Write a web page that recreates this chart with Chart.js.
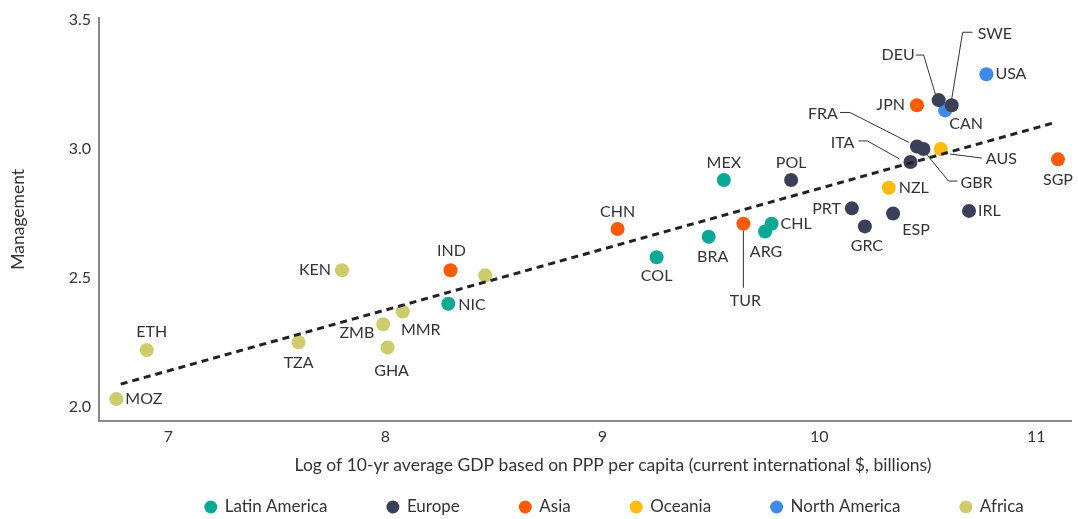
<!DOCTYPE html>
<html lang="en">
<head>
  <meta charset="UTF-8" />
  <title>Management vs GDP</title>
  <script src="https://cdn.jsdelivr.net/npm/chart.js"></script>
  <style>
    html, body { margin: 0; padding: 0; background: #fff; }
    #wrap { position: relative; width: 1078px; height: 519px; }
  </style>
</head>
<body>
  <div id="wrap"><canvas id="scatter"></canvas></div>

  <script>
    // ---- data ----
    const regions = ["Latin America", "Europe", "Asia", "Oceania", "North America", "Africa"];
    const regionColors = ["#0aa896", "#3b4059", "#ff5a06", "#fdbb0e", "#3d8ae8", "#cdcb6c"];

    const codes  = ["MOZ", "ETH", "TZA", "KEN", "ZMB", "GHA", "MMR", "", "IND", "NIC",
                    "CHN", "COL", "MEX", "BRA", "TUR", "ARG", "CHL", "POL", "PRT", "GRC",
                    "ESP", "NZL", "IRL", "SGP", "USA", "JPN", "DEU", "SWE", "CAN", "FRA",
                    "GBR", "ITA", "AUS"];
    const gdpLog = [6.76, 6.90, 7.60, 7.80, 7.99, 8.01, 8.08, 8.46, 8.30, 8.29,
                    9.07, 9.25, 9.56, 9.49, 9.65, 9.75, 9.78, 9.87, 10.15, 10.21,
                    10.34, 10.32, 10.69, 11.10, 10.77, 10.45, 10.55, 10.61, 10.58, 10.45,
                    10.48, 10.42, 10.56];
    const mgmt   = [2.03, 2.22, 2.25, 2.53, 2.32, 2.23, 2.37, 2.51, 2.53, 2.40,
                    2.69, 2.58, 2.88, 2.66, 2.71, 2.68, 2.71, 2.88, 2.77, 2.70,
                    2.75, 2.85, 2.76, 2.96, 3.29, 3.17, 3.19, 3.17, 3.15, 3.01,
                    3.00, 2.95, 3.00];
    const region = ["Africa", "Africa", "Africa", "Africa", "Africa", "Africa", "Africa", "Africa", "Asia", "Latin America",
                    "Asia", "Latin America", "Latin America", "Latin America", "Asia", "Latin America", "Latin America", "Europe", "Europe", "Europe",
                    "Europe", "Oceania", "Europe", "Asia", "North America", "Asia", "Europe", "Europe", "North America", "Europe",
                    "Europe", "Europe", "Oceania"];

    const trendX = [6.78, 11.09];
    const trendY = [2.088, 3.104];

    const xTicks = [7, 8, 9, 10, 11];
    const yTicks = [2.0, 2.5, 3.0, 3.5];

    const xTitle = "Log of 10-yr average GDP based on PPP per capita (current international $, billions)";

    // label placement: [dx, dy, align, leader polyline (relative to point)]
    const labelPos = {
      MOZ: [9, 0, "left"], ETH: [5, -18, "center"], TZA: [0, 20, "center"],
      KEN: [-11, 0, "right"], ZMB: [-9, 9, "right"], GHA: [4, 23, "center"],
      MMR: [18, 18, "center"], IND: [1, -19, "center"], NIC: [10, 1, "left"],
      CHN: [0, -17, "center"], COL: [0, 19, "center"], MEX: [0, -17, "center"],
      BRA: [4, 20, "center"], TUR: [2, 77, "center", [[0, 7], [0, 64]]],
      ARG: [1, 20, "center"], CHL: [9, 0, "left"], POL: [0, -17, "center"],
      PRT: [-11, 0, "right"], GRC: [2, 19, "center"], ESP: [23, 16, "center"],
      NZL: [10, 0, "left"], IRL: [9, 0, "left"], SGP: [0, 20, "center"],
      USA: [9, 0, "left"], JPN: [-12, 0, "right"], CAN: [21, 13, "center"],
      DEU: [-24, -45, "right", [[-23, -45], [-15, -45], [-3, -5]]],
      SWE: [26, -71, "left", [[21, -73], [11, -73], [0, -6]]],
      FRA: [-79, -33, "right", [[-77, -34], [-67, -34], [-8, -4]]],
      ITA: [-56, -19, "right", [[-52, -21], [-43, -21], [-11, -3]]],
      AUS: [45, 10, "left", [[9, 5], [41, 9]]],
      GBR: [37, 34, "left", [[3, 5], [25, 32], [34, 32]]]
    };

    const datasets = regions.map((r, ri) => {
      const pts = [];
      codes.forEach((c, i) => {
        if (region[i] === r) pts.push({ x: gdpLog[i], y: mgmt[i], code: c });
      });
      return {
        type: "scatter",
        label: r,
        data: pts,
        backgroundColor: regionColors[ri],
        borderWidth: 0,
        pointRadius: 7,
        pointHoverRadius: 7
      };
    });

    datasets.unshift({
      type: "line",
      label: "trend",
      data: trendX.map((x, i) => ({ x, y: trendY[i] })),
      borderColor: "#222",
      borderWidth: 3,
      borderDash: [7, 5],
      pointRadius: 0,
      fill: false
    });

    const labelFont = "16px Lato, sans-serif";

    const countryLabels = {
      id: "countryLabels",
      afterDatasetsDraw(chart) {
        const ctx = chart.ctx;
        ctx.save();
        ctx.font = labelFont;
        ctx.fillStyle = "#333";
        ctx.strokeStyle = "#333";
        ctx.lineWidth = 1;
        ctx.textBaseline = "middle";
        chart.data.datasets.forEach((ds, di) => {
          if (ds.type !== "scatter") return;
          const meta = chart.getDatasetMeta(di);
          ds.data.forEach((p, i) => {
            const pos = labelPos[p.code];
            if (!pos) return;
            const el = meta.data[i];
            if (pos[3]) {
              ctx.beginPath();
              pos[3].forEach(([dx, dy], k) => {
                if (k === 0) ctx.moveTo(el.x + dx, el.y + dy);
                else ctx.lineTo(el.x + dx, el.y + dy);
              });
              ctx.stroke();
            }
            ctx.textAlign = pos[2];
            ctx.fillText(p.code, el.x + pos[0], el.y + pos[1]);
          });
        });
        ctx.restore();
      }
    };

    // x title + legend drawn by hand: both sit a little right of the plot centre
    const bottomTexts = {
      id: "bottomTexts",
      afterDraw(chart) {
        const ctx = chart.ctx;
        ctx.save();
        ctx.font = "17.5px Lato, sans-serif";
        ctx.fillStyle = "#333";
        ctx.textBaseline = "middle";
        ctx.textAlign = "center";
        ctx.fillText(xTitle, 613, chart.scales.x.bottom - 14);

        ctx.font = "17px Lato, sans-serif";
        ctx.textAlign = "left";
        const gap = 59, r = 6.5, textOff = 20.5;
        const widths = regions.map(t => textOff + ctx.measureText(t).width);
        const total = widths.reduce((a, b) => a + b, 0) + gap * (regions.length - 1);
        let x = 614 - total / 2;
        const y = chart.height - 12;
        regions.forEach((t, i) => {
          ctx.fillStyle = regionColors[i];
          ctx.beginPath();
          ctx.arc(x + r, y, r, 0, Math.PI * 2);
          ctx.fill();
          ctx.fillStyle = "#333";
          ctx.fillText(t, x + textOff, y);
          x += widths[i] + gap;
        });
        ctx.restore();
      }
    };

    Chart.defaults.font.family = "Lato, sans-serif";
    Chart.defaults.color = "#333";

    new Chart(document.getElementById("scatter"), {
      data: { datasets },
      options: {
        responsive: true,
        maintainAspectRatio: false,
        animation: false,
        layout: { padding: { top: 0, right: 0, left: 4, bottom: 40 } },
        plugins: {
          tooltip: { enabled: false },
          legend: { display: false }
        },
        scales: {
          x: {
            type: "linear",
            min: 6.68,
            max: 11.16,
            afterBuildTicks: axis => { axis.ticks = xTicks.map(v => ({ value: v })); },
            afterFit: axis => { axis.height = 58; },
            grid: { display: false, drawTicks: false },
            border: { color: "#888", width: 2 },
            ticks: { padding: 6, font: { size: 16 }, color: "#333" }
          },
          y: {
            type: "linear",
            min: 1.945,
            max: 3.51,
            afterBuildTicks: axis => { axis.ticks = yTicks.map(v => ({ value: v })); },
            afterFit: axis => { axis.width = 95; },
            grid: { display: false, drawTicks: false },
            border: { color: "#888", width: 2 },
            ticks: { padding: 8, font: { size: 16 }, color: "#333", callback: v => v.toFixed(1) },
            title: {
              display: true,
              text: "Management",
              font: { size: 17.5 },
              color: "#333",
              padding: { bottom: 0 }
            }
          }
        }
      },
      plugins: [countryLabels, bottomTexts]
    });
  </script>
</body>
</html>
